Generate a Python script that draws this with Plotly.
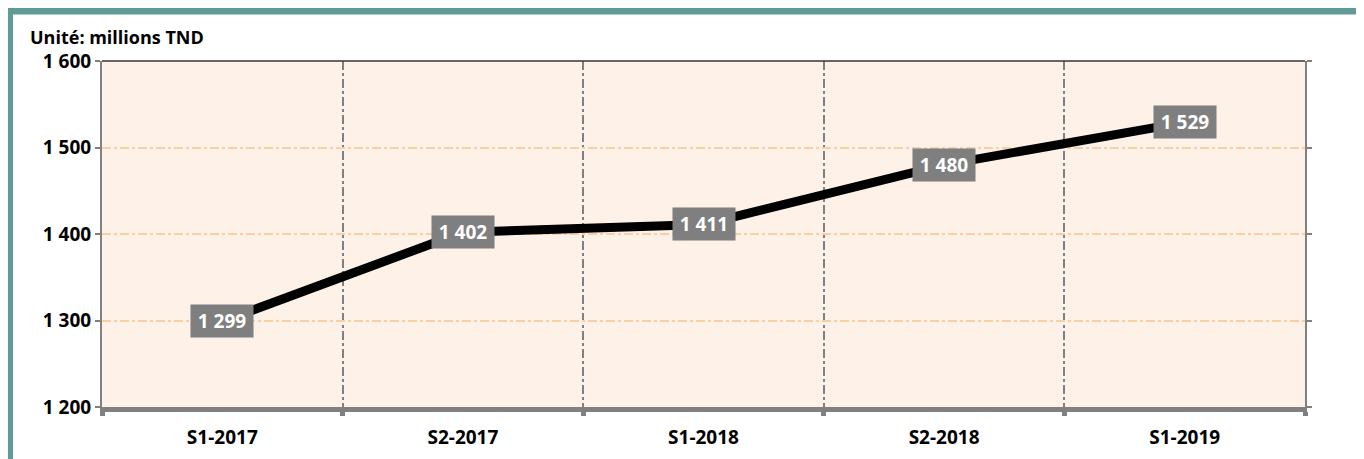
import plotly.graph_objects as go

categories = ["S1-2017", "S2-2017", "S1-2018", "S2-2018", "S1-2019"]
values = [1299, 1402, 1411, 1480, 1529]
label_texts = ["1 299", "1 402", "1 411", "1 480", "1 529"]
y_ticks = [1200, 1300, 1400, 1500, 1600]
y_tick_labels = ["1 200", "1 300", "1 400", "1 500", "1 600"]

FONT = "Open Sans"
x_idx = list(range(len(categories)))

fig = go.Figure()
fig.add_trace(go.Scatter(
    x=x_idx, y=values, mode="lines",
    line=dict(color="#000000", width=9),
    hoverinfo="skip", showlegend=False,
))

for xi, v, t in zip(x_idx, values, label_texts):
    fig.add_annotation(
        x=xi, y=v, xref="x", yref="y", text=t, showarrow=False,
        font=dict(family=FONT, size=19, color="white", weight="bold"),
        bgcolor="#7f7f7f", borderpad=5, width=52, height=22,
        xanchor="center", yanchor="middle",
    )

fig.add_annotation(
    x=-0.0615, y=1.069, xref="paper", yref="paper", text="Unité: millions TND",
    showarrow=False, xanchor="left", yanchor="middle",
    font=dict(family=FONT, size=18, color="black", weight="bold"),
)

shapes = [
    # white panel with teal frame
    dict(type="rect", xref="paper", yref="paper", x0=-0.0769, x1=1.2, y0=-0.3, y1=1.1445,
         fillcolor="white", line=dict(color="#5f9b97", width=7), layer="below"),
    # plot background
    dict(type="rect", xref="paper", yref="paper", x0=0, x1=1, y0=0, y1=1,
         fillcolor="#fdf1e8", line=dict(width=0), layer="below"),
    # top border line
    dict(type="line", xref="paper", yref="paper", x0=0, x1=1, y0=1, y1=1,
         line=dict(color="#333333", width=1.5), layer="above"),
]

fig.update_layout(
    width=1356, height=451,
    margin=dict(l=94, r=59, t=53, b=52, autoexpand=False),
    paper_bgcolor="#eceeed",
    plot_bgcolor="rgba(0,0,0,0)",
    shapes=shapes,
    showlegend=False,
    font=dict(family=FONT, size=19, color="black"),
    xaxis=dict(
        range=[-0.5, len(categories) - 0.5],
        tickvals=x_idx, ticktext=categories, automargin=False,
        tickfont=dict(family=FONT, size=19, color="black", weight="bold"),
        showgrid=False, zeroline=False,
        showline=True, linecolor="#808080", linewidth=5,
        ticks="", ticklabelstandoff=9,
        minor=dict(tick0=0.5, dtick=1, showgrid=True, gridcolor="#808080",
                   griddash="dashdot", gridwidth=1.5,
                   ticks="outside", ticklen=4, tickwidth=5, tickcolor="#808080"),
    ),
    yaxis=dict(
        range=[1200, 1600],
        tickvals=y_ticks, ticktext=y_tick_labels, automargin=False,
        tickfont=dict(family=FONT, size=19, color="black", weight="bold"),
        showgrid=True, gridcolor="#f9cfa8", griddash="dashdot", gridwidth=1.5,
        zeroline=False,
        showline=True, linecolor="#808080", linewidth=2,
        ticks="outside", ticklen=5, tickcolor="#808080", tickwidth=1.5,
        mirror="ticks",
    ),
)

fig.write_html("out.html")
